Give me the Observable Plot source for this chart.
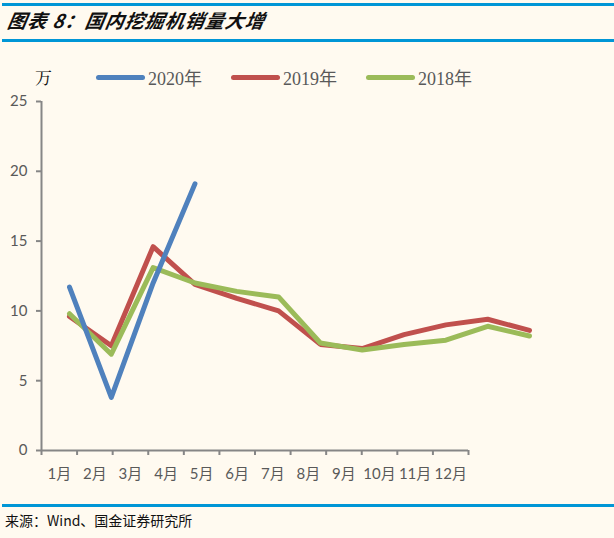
<!DOCTYPE html>
<html><head><meta charset="utf-8">
<script src="https://cdn.jsdelivr.net/npm/d3@7"></script>
<script src="https://cdn.jsdelivr.net/npm/@observablehq/plot@0.6"></script>
<style>
html,body{margin:0;padding:0;background:#FFFAF0;}
#wrap{position:relative;width:614px;height:538px;background:#FFFAF0;overflow:hidden;font-family:Lato,"Noto Sans CJK SC",sans-serif;}
.hr{position:absolute;left:2px;width:612px;height:3px;background:#0096D6;}
#title{position:absolute;left:8px;top:6px;font-family:"Noto Sans CJK SC";font-weight:bold;font-style:italic;font-size:19px;color:#111;letter-spacing:1px;transform:skewX(-10deg);transform-origin:left;}
#caption{position:absolute;left:5px;top:510px;font-family:"Noto Sans CJK SC";font-size:14px;color:#111;}
#legend{position:absolute;left:0;top:62px;width:614px;height:28px;}
.unit{position:absolute;left:35px;top:2px;font-family:"Noto Serif CJK SC","Noto Sans CJK SC";font-size:17px;color:#111;}
.li{position:absolute;top:2px;display:flex;align-items:center;font-family:"Liberation Serif","Noto Sans CJK SC";font-size:18px;color:#595959;}
.sw{display:inline-block;width:49px;height:5px;border-radius:3px;margin-right:3px;}
.layer{position:absolute;left:0;top:90px;}
</style></head>
<body><div id="wrap">
<div class="hr" style="top:3px"></div>
<div id="title">图表 8：国内挖掘机销量大增</div>
<div class="hr" style="top:39px"></div>
<div id="legend"></div>
<div id="axes" class="layer"></div>
<div id="lines" class="layer"></div>
<div class="hr" style="top:504px"></div>
<div id="caption">来源：Wind、国金证券研究所</div>
</div>
<script>
const months = ["1月","2月","3月","4月","5月","6月","7月","8月","9月","10月","11月","12月"];
const yTicks = [0,5,10,15,20,25];
const series = ["2020年","2019年","2018年"];
const colors = ["#4F81BD","#C0504D","#9BBB59"];
const v2020 = [11.7, 3.8, 12.0, 19.1];
const v2019 = [9.6, 7.5, 14.6, 11.9, 10.9, 10.0, 7.6, 7.3, 8.3, 9.0, 9.4, 8.6];
const v2018 = [9.8, 6.9, 13.1, 12.0, 11.4, 11.0, 7.7, 7.2, 7.6, 7.9, 8.9, 8.2];

const W = 614, H = 400, MT = 11, MB = 40;
const axisColor = "#868686";
const textColor = "#595959";

// Legend
const leg = document.getElementById("legend");
const unit = document.createElement("div"); unit.className="unit"; unit.textContent="万"; leg.appendChild(unit);
const legX = [96, 231, 366];
series.forEach((s,i)=>{
  const d = document.createElement("div"); d.className="li"; d.style.left = legX[i]+"px";
  d.innerHTML = `<span class="sw" style="background:${colors[i]}"></span>${s}`;
  leg.appendChild(d);
});

// Axes layer: category axis with ticks between categories
const axes = Plot.plot({
  width: W, height: H, marginTop: MT, marginBottom: MB, marginLeft: 41, marginRight: W-468,
  style: {background: "transparent", fontFamily: "Lato, 'Noto Sans CJK SC', sans-serif", fontSize: "15px", color: textColor},
  x: {type: "linear", domain: [0, months.length]},
  y: {domain: [0, 25]},
  marks: [
    Plot.axisY({ticks: yTicks, tickSize: 5, tickPadding: 9, stroke: axisColor, strokeWidth: 2, fill: textColor, fontSize: 15, label: null}),
    Plot.axisX({ticks: d3.range(months.length+1), tickSize: 5, tickFormat: () => "", stroke: axisColor, strokeWidth: 2, label: null}),
    Plot.axisX({ticks: months.map((m,i)=>i+0.5), tickSize: 0, tickPadding: 18, tickFormat: d => months[Math.floor(d)], fill: textColor, fontSize: 15, label: null}),
    Plot.ruleX([0], {y1: 0, y2: 25, stroke: axisColor, strokeWidth: 2}),
    Plot.ruleY([0], {x1: 0, x2: months.length, stroke: axisColor, strokeWidth: 2})
  ]
});
document.getElementById("axes").appendChild(axes);

// Lines layer
const rows = [];
v2019.forEach((v,i)=>rows.push({m: months[i], v, s: "2019年"}));
v2018.forEach((v,i)=>rows.push({m: months[i], v, s: "2018年"}));
v2020.forEach((v,i)=>rows.push({m: months[i], v, s: "2020年"}));
const lines = Plot.plot({
  width: W, height: H, marginTop: MT, marginBottom: MB, marginLeft: 69, marginRight: W-529,
  style: {background: "transparent"},
  x: {type: "point", domain: months, padding: 0, round: false, axis: null},
  y: {domain: [0, 25], axis: null},
  color: {domain: series, range: colors},
  marks: [
    Plot.line(rows.filter(d=>d.s==="2019年"), {x: "m", y: "v", stroke: "s", strokeWidth: 5, strokeLinejoin: "round", strokeLinecap: "round"}),
    Plot.line(rows.filter(d=>d.s==="2018年"), {x: "m", y: "v", stroke: "s", strokeWidth: 5, strokeLinejoin: "round", strokeLinecap: "round"}),
    Plot.line(rows.filter(d=>d.s==="2020年"), {x: "m", y: "v", stroke: "s", strokeWidth: 5, strokeLinejoin: "round", strokeLinecap: "round"})
  ]
});
document.getElementById("lines").appendChild(lines);
</script>
</body></html>
